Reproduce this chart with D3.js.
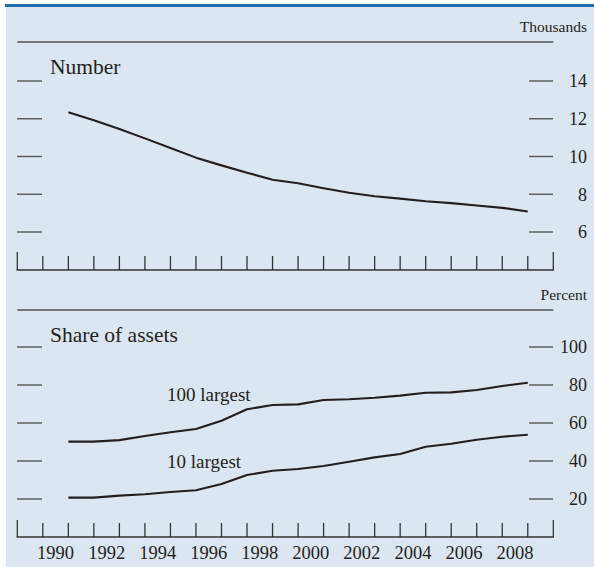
<!DOCTYPE html>
<html lang="en">
  <head>
    <meta charset="utf-8">
    <title>Banks: number and share of assets</title>
    <script src="https://d3js.org/d3.v7.min.js"></script>
    <style>
      body { margin: 0; background: #fff; }
      text { font-family: "Liberation Serif", "Times New Roman", serif; fill: #231f20; }
    </style>
  </head>
  <body>
    <div id="chart"></div>
    <script type="text/javascript">
      // data (year-end values)
      const years = [1990, 1991, 1992, 1993, 1994, 1995, 1996, 1997, 1998, 1999,
                     2000, 2001, 2002, 2003, 2004, 2005, 2006, 2007, 2008];
      const numberThousands = [12.34, 11.92, 11.46, 10.96, 10.45, 9.94, 9.53, 9.14, 8.77, 8.58,
                               8.32, 8.08, 7.89, 7.77, 7.63, 7.53, 7.40, 7.28, 7.09];
      const share100 = [50.2, 50.2, 51.0, 53.2, 55.1, 56.8, 61.2, 67.2, 69.5, 69.8,
                        72.1, 72.5, 73.3, 74.4, 75.9, 76.1, 77.4, 79.5, 81.2];
      const share10 = [20.7, 20.7, 21.8, 22.5, 23.7, 24.6, 27.9, 32.6, 34.9, 35.8,
                       37.4, 39.6, 41.9, 43.7, 47.5, 49.1, 51.2, 52.8, 53.8];
      const numberTicks = [6, 8, 10, 12, 14];
      const percentTicks = [20, 40, 60, 80, 100];
      const yearLabels = [1990, 1992, 1994, 1996, 1998, 2000, 2002, 2004, 2006, 2008];

      const width = 594, height = 567;
      const ink = "#231f20";

      const svg = d3.select("#chart")
        .append("svg")
        .attr("width", width)
        .attr("height", height);

      // background panel + blue rule on top
      svg.append("rect")
        .attr("x", 6).attr("y", 6)
        .attr("width", width - 6).attr("height", height - 6)
        .attr("fill", "#dce6f0");
      svg.append("rect")
        .attr("x", 5).attr("y", 4)
        .attr("width", width - 5).attr("height", 3)
        .attr("fill", "#1f6dad");

      // x scale: each year occupies one interval, points sit at year end
      const x = d3.scaleLinear().domain([1989, 2010]).range([17.3, 553.3]);
      const allTicks = d3.range(1989, 2011);

      // top panel scale
      const y1 = d3.scaleLinear().domain([6, 14]).range([232, 81]);
      // bottom panel scale
      const y2 = d3.scaleLinear().domain([20, 100]).range([499, 347]);

      // draw one panel's frame: unit label, rule, y ticks, bottom axis
      var drawPanel = function(y, ticks, unit, ruleY, axisY, endTick) {
        svg.append("text")
          .attr("x", 587).attr("y", ruleY - 10)
          .attr("text-anchor", "end")
          .style("font-size", "15.5px")
          .text(unit);

        svg.append("line")
          .attr("x1", x.range()[0]).attr("x2", x.range()[1])
          .attr("y1", ruleY).attr("y2", ruleY)
          .attr("stroke", "#555").attr("stroke-width", 1.6);

        // left tick marks
        svg.append("g").selectAll("line")
          .data(ticks)
          .join("line")
            .attr("x1", 17).attr("x2", 42)
            .attr("y1", (d) => y(d)).attr("y2", (d) => y(d))
            .attr("stroke", "#555").attr("stroke-width", 1.4);

        // right tick marks + labels
        let right = svg.append("g");
        right.selectAll("line")
          .data(ticks)
          .join("line")
            .attr("x1", 529).attr("x2", 553)
            .attr("y1", (d) => y(d)).attr("y2", (d) => y(d))
            .attr("stroke", "#555").attr("stroke-width", 1.4);
        right.selectAll("text")
          .data(ticks)
          .join("text")
            .attr("x", 587)
            .attr("y", (d) => y(d))
            .attr("dy", "0.35em")
            .attr("text-anchor", "end")
            .style("font-size", "18px")
            .text((d) => d);

        // bottom axis with a tick at every year boundary
        svg.append("line")
          .attr("x1", x.range()[0] - 0.7).attr("x2", x.range()[1] + 0.7)
          .attr("y1", axisY).attr("y2", axisY)
          .attr("stroke", "#333").attr("stroke-width", 1.5);
        svg.append("g").selectAll("line")
          .data(allTicks)
          .join("line")
            .attr("x1", (d) => x(d)).attr("x2", (d) => x(d))
            .attr("y1", (d) => (d == 1989 || d == 2010) ? axisY - endTick : axisY - 14)
            .attr("y2", axisY)
            .attr("stroke", "#333").attr("stroke-width", 1.3);
      }

      drawPanel(y1, numberTicks, "Thousands", 42, 270, 18);
      drawPanel(y2, percentTicks, "Percent", 310, 537, 17);

      // year labels centred in their interval
      svg.append("g").selectAll("text")
        .data(yearLabels)
        .join("text")
          .attr("x", (d) => x(d + 0.5))
          .attr("y", 559)
          .attr("text-anchor", "middle")
          .style("font-size", "18.5px")
          .text((d) => d);

      // series lines
      var addLine = function(values, y) {
        let line = d3.line()
          .x((d, i) => x(years[i] + 1))
          .y((d) => y(d));
        svg.append("path")
          .datum(values)
          .attr("d", line)
          .attr("fill", "none")
          .attr("stroke", ink)
          .attr("stroke-width", 2.1)
          .attr("stroke-linejoin", "round");
      }

      addLine(numberThousands, y1);
      addLine(share100, y2);
      addLine(share10, y2);

      // panel titles and series labels
      svg.append("text")
        .attr("x", 50).attr("y", 74)
        .style("font-size", "21.5px")
        .text("Number");
      svg.append("text")
        .attr("x", 50).attr("y", 342)
        .style("font-size", "21.5px")
        .text("Share of assets");
      svg.append("text")
        .attr("x", 167).attr("y", 401)
        .style("font-size", "19px")
        .text("100 largest");
      svg.append("text")
        .attr("x", 167).attr("y", 468)
        .style("font-size", "19px")
        .text("10 largest");
    </script>
  </body>
</html>
